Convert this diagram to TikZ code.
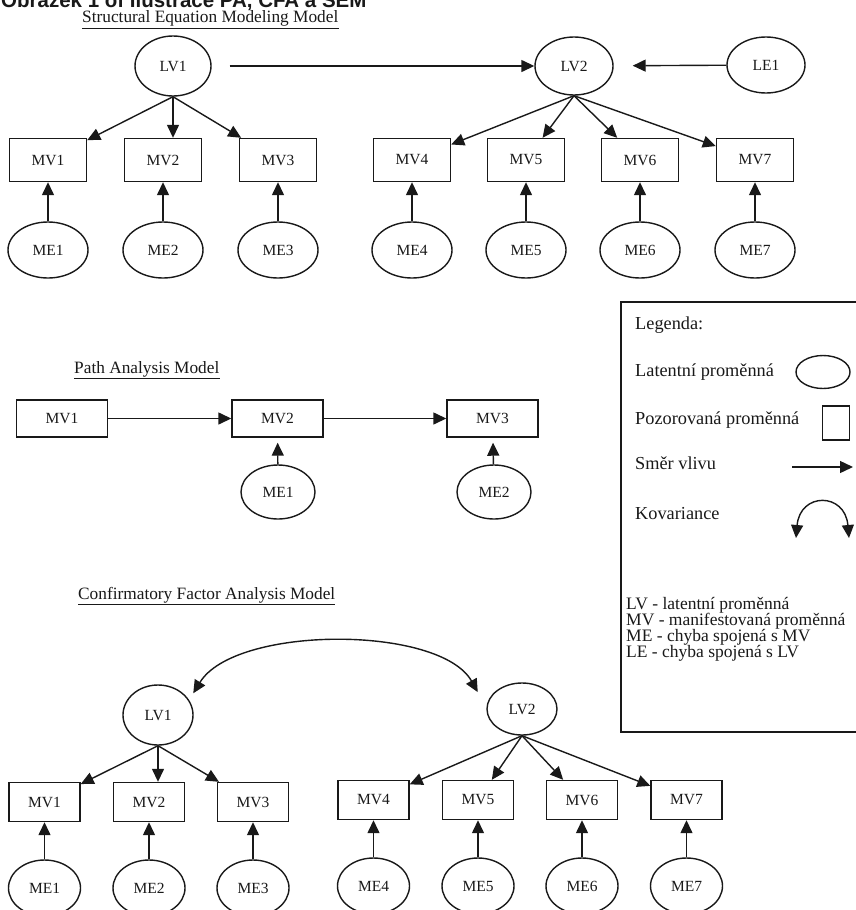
\documentclass[tikz,border=0pt]{standalone}
\usepackage{fontspec}
\setmainfont{Liberation Serif}
\newfontfamily\capfont{Liberation Sans}
\usetikzlibrary{arrows.meta,shapes.geometric}

\definecolor{ink}{rgb}{0.1,0.1,0.1}

\begin{document}
\begin{tikzpicture}[x=1pt,y=-1pt,
  every node/.style={text=ink},
  lat/.style={draw=ink,ellipse,line width=1.4pt,inner sep=0pt,
    font=\fontsize{15.5}{15}\selectfont},
  mvbox/.style={draw=ink,rectangle,line width=1.4pt,inner sep=0pt,
    font=\fontsize{15.5}{15}\selectfont},
  semmv/.style={mvbox,minimum width=77pt,minimum height=43pt},
  semme/.style={lat,minimum width=80pt,minimum height=56pt},
  pathmv/.style={mvbox,minimum width=91pt,minimum height=37pt},
  pathme/.style={lat,minimum width=74pt,minimum height=54pt},
  cfamv/.style={mvbox,minimum width=71pt,minimum height=39pt},
  cfame/.style={lat,minimum width=72pt,minimum height=56pt},
  arr/.style={draw=ink,line width=1.4pt,-{Triangle[length=13pt,width=12pt]}},
  covarr/.style={draw=ink,line width=1.4pt,
    {Triangle[length=13pt,width=12pt]}-{Triangle[length=13pt,width=12pt]}},
  heading/.style={anchor=base west,inner sep=0pt,
    font=\fontsize{17.3}{17}\selectfont},
  uline/.style={draw=ink,line width=1.2pt},
  legtext/.style={anchor=west,inner sep=0pt,
    font=\fontsize{18.3}{16}\selectfont},
  legline/.style={anchor=west,inner sep=0pt,
    font=\fontsize{17.5}{16}\selectfont}]

\useasboundingbox (0,0) rectangle (856,910);
\fill[white] (0,0) rectangle (856,910);

% caption, cut by the top edge
\node[anchor=base west,inner sep=0pt,
  font=\capfont\bfseries\fontsize{20.5}{20}\selectfont] (caption) at (1,7)
  {Obrázek 1 of Ilustrace PA, CFA a SEM};

% structural equation model
\node[heading] (semtitle) at (82,23) {Structural Equation Modeling Model};
\draw[uline] ([yshift=-1.5pt]semtitle.south west) -- ([yshift=-1.5pt]semtitle.south east);

\node[lat,minimum width=76pt,minimum height=60pt] (semLV1) at (173,66) {LV1};
\node[lat,minimum width=78pt,minimum height=58pt] (semLV2) at (574,66) {LV2};
\node[lat,minimum width=78pt,minimum height=56pt] (semLE1) at (766,65) {LE1};

\node[semmv] (semMV1) at (48,160) {MV1};
\node[semmv] (semMV2) at (163,160) {MV2};
\node[semmv] (semMV3) at (278,160) {MV3};
\node[semmv] (semMV4) at (412,160) {MV4};
\node[semmv] (semMV5) at (526,160) {MV5};
\node[semmv] (semMV6) at (640,160) {MV6};
\node[semmv] (semMV7) at (755,160) {MV7};

\node[semme] (semME1) at (48,250) {ME1};
\node[semme] (semME2) at (163,250) {ME2};
\node[semme] (semME3) at (278,250) {ME3};
\node[semme] (semME4) at (412,250) {ME4};
\node[semme] (semME5) at (526,250) {ME5};
\node[semme] (semME6) at (640,250) {ME6};
\node[semme] (semME7) at (755,250) {ME7};

\draw[arr,shorten <=18pt] (semLV1) -- (semLV2);
\draw[arr,shorten >=19pt] (semLE1) -- (semLV2);
\draw[arr] (semLV1.south) -- (semMV1);
\draw[arr] (semLV1.south) -- (semLV1.south |- semMV2.north);
\draw[arr] (semLV1.south) -- (semMV3);
\draw[arr] (semLV2.south) -- (semMV4);
\draw[arr] (semLV2.south) -- (semMV5);
\draw[arr] (semLV2.south) -- (semMV6);
\draw[arr] (semLV2.south) -- (semMV7);
\draw[arr] (semME1) -- (semMV1);
\draw[arr] (semME2) -- (semMV2);
\draw[arr] (semME3) -- (semMV3);
\draw[arr] (semME4) -- (semMV4);
\draw[arr] (semME5) -- (semMV5);
\draw[arr] (semME6) -- (semMV6);
\draw[arr] (semME7) -- (semMV7);

% path analysis
\node[heading] (pathtitle) at (74,373) {Path Analysis Model};
\draw[uline] ([yshift=-1.5pt]pathtitle.south west) -- ([yshift=-1.5pt]pathtitle.south east);

\node[pathmv] (pathMV1) at (62,418.5) {MV1};
\node[pathmv] (pathMV2) at (277.5,418.5) {MV2};
\node[pathmv] (pathMV3) at (492.5,418.5) {MV3};
\node[pathme] (pathME1) at (278,492) {ME1};
\node[pathme] (pathME2) at (494,492) {ME2};

\draw[arr] (pathMV1) -- (pathMV2);
\draw[arr] (pathMV2) -- (pathMV3);
\draw[arr,shorten >=5pt] (pathME1) -- (pathMV2);
\draw[arr,shorten >=5pt] (pathME2) -- (pathMV3);

% legend
\draw[draw=ink,line width=1.4pt] (621,302) rectangle (880,732);
\node[legtext] (legHead) at (635,325) {Legenda:};
\node[legtext] (legLat) at (635,372) {Latentní proměnná};
\node[legtext] (legObs) at (635,420) {Pozorovaná proměnná};
\node[legtext] (legDir) at (635,463) {Směr vlivu};
\node[legtext] (legCov) at (635,514) {Kovariance};
\node[legline] (legLV) at (626,605) {LV - latentní proměnná};
\node[legline] (legMV) at (626,621) {MV - manifestovaná proměnná};
\node[legline] (legME) at (626,637) {ME - chyba spojená s MV};
\node[legline] (legLE) at (626,653) {LE - chyba spojená s LV};

\node[draw=ink,ellipse,line width=1.4pt,minimum width=54pt,minimum height=33pt] (legEll) at (823,372) {};
\node[draw=ink,line width=1.4pt,minimum width=27pt,minimum height=34pt] (legSq) at (836,423) {};
\coordinate (dirA) at (792,467);
\coordinate (dirB) at (853,467);
\draw[arr] (dirA) -- (dirB);
\coordinate (covA) at (796,538);
\coordinate (covB) at (849,538);
\draw[covarr] (covA) .. controls (800,492) and (845,492) .. (covB);

% confirmatory factor analysis
\node[heading] (cfatitle) at (78,599) {Confirmatory Factor Analysis Model};
\draw[uline] ([yshift=-1.5pt]cfatitle.south west) -- ([yshift=-1.5pt]cfatitle.south east);

\node[lat,minimum width=70pt,minimum height=60pt] (cfaLV1) at (158,715) {LV1};
\node[lat,minimum width=70pt,minimum height=52pt] (cfaLV2) at (522,709) {LV2};

\node[cfamv] (cfaMV1) at (44.5,802) {MV1};
\node[cfamv] (cfaMV2) at (149,802) {MV2};
\node[cfamv] (cfaMV3) at (253,802) {MV3};
\node[cfamv] (cfaMV4) at (373.5,800) {MV4};
\node[cfamv] (cfaMV5) at (478,800) {MV5};
\node[cfamv] (cfaMV6) at (582,800) {MV6};
\node[cfamv] (cfaMV7) at (686.5,800) {MV7};

\node[cfame] (cfaME1) at (44.5,888) {ME1};
\node[cfame] (cfaME2) at (149,888) {ME2};
\node[cfame] (cfaME3) at (253,888) {ME3};
\node[cfame] (cfaME4) at (373.5,886) {ME4};
\node[cfame] (cfaME5) at (478,886) {ME5};
\node[cfame] (cfaME6) at (582,886) {ME6};
\node[cfame] (cfaME7) at (686.5,886) {ME7};

\draw[covarr] ([xshift=10pt]cfaLV1.north east) .. controls (235,625) and (440,625)
  .. ([xshift=-19pt,yshift=-2pt]cfaLV2.north west);
\draw[arr] (cfaLV1.south) -- (cfaMV1);
\draw[arr] (cfaLV1.south) -- (cfaLV1.south |- cfaMV2.north);
\draw[arr] (cfaLV1.south) -- (cfaMV3);
\draw[arr] (cfaLV2.south) -- (cfaMV4);
\draw[arr] (cfaLV2.south) -- (cfaMV5);
\draw[arr] (cfaLV2.south) -- (cfaMV6);
\draw[arr] (cfaLV2.south) -- (cfaMV7);
\draw[arr] (cfaME1) -- (cfaMV1);
\draw[arr] (cfaME2) -- (cfaMV2);
\draw[arr] (cfaME3) -- (cfaMV3);
\draw[arr] (cfaME4) -- (cfaMV4);
\draw[arr] (cfaME5) -- (cfaMV5);
\draw[arr] (cfaME6) -- (cfaMV6);
\draw[arr] (cfaME7) -- (cfaMV7);

\end{tikzpicture}
\end{document}
